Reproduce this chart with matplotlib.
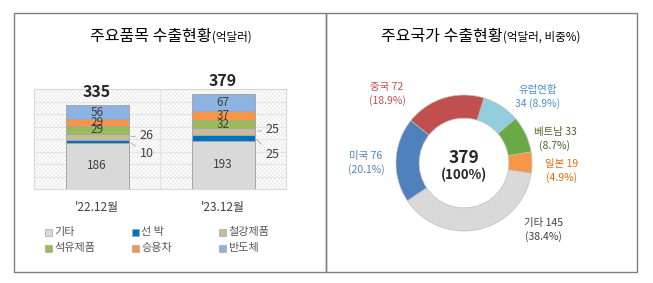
import numpy as np
import matplotlib
matplotlib.use("Agg")
import matplotlib.pyplot as plt
from matplotlib.patches import Rectangle

plt.rcParams['font.family'] = ['Noto Sans CJK KR', 'DejaVu Sans']
plt.rcParams['hatch.linewidth'] = 0.35

# ---- data: 주요품목 (억달러) ----
periods = ["'22.12월", "'23.12월"]
items = ['기타', '선 박', '철강제품', '석유제품', '승용차', '반도체']
item_vals = {
    '기타': [186, 193],
    '선 박': [10, 25],
    '철강제품': [26, 25],
    '석유제품': [29, 32],
    '승용차': [29, 37],
    '반도체': [56, 67],
}
totals = [335, 379]
item_colors = ['#d9d9d9', '#0070c0', '#c4bd97', '#9bbb59', '#f79646', '#8db3e2']

# ---- data: 주요국가 (억달러, 비중%) ----
countries = ['유럽연합', '베트남', '일본', '기타', '미국', '중국']
country_vals = [34, 33, 19, 145, 76, 72]
country_share = [8.9, 8.7, 4.9, 38.4, 20.1, 18.9]
country_colors = ['#92cddc', '#6aaa46', '#f79646', '#d9d9d9', '#4f81bd', '#c0504d']
label_colors = ['#4f8fd0', '#4f6228', '#e46c0a', '#404040', '#4f81bd', '#c0504d']

W, H = 653, 283
fig = plt.figure(figsize=(W / 100, H / 100), dpi=100)


def fx(x):
    return x / W


def fy(y):
    return 1 - y / H


# panel frames
for x0, x1 in [(14, 326), (326, 637)]:
    fig.patches.append(Rectangle((fx(x0), fy(272)), fx(x1) - fx(x0), fy(13) - fy(272),
                                 transform=fig.transFigure, fill=False,
                                 edgecolor='#7f7f7f', lw=1.0))

# titles
fig.text(fx(212), fy(41), '주요품목 수출현황', ha='right', va='baseline', fontsize=11.5, color='black')
fig.text(fx(212), fy(41), '(억달러)', ha='left', va='baseline', fontsize=8.3, color='black')
fig.text(fx(503), fy(41), '주요국가 수출현황', ha='right', va='baseline', fontsize=11.5, color='black')
fig.text(fx(503), fy(41), '(억달러, 비중%)', ha='left', va='baseline', fontsize=8.3, color='black')

# ---- stacked bars ----
ax = fig.add_axes([fx(34), fy(189), fx(286) - fx(34), fy(89) - fy(189)])
ax.set_xlim(-0.5, 1.5)
ax.set_ylim(0, 400)
ax.add_patch(Rectangle((0, 0), 1, 1, transform=ax.transAxes, facecolor='white',
                       edgecolor='#e4e4e4', hatch='xxxxxxxx', lw=0, zorder=0))
for s in ax.spines.values():
    s.set_color('#d9d9d9')
ax.set_yticks(np.arange(0, 401, 50))
ax.set_yticklabels([])
ax.tick_params(left=False, bottom=False, labelbottom=False)
ax.grid(axis='y', color='#e3e3e3', lw=0.8, zorder=0.5)
ax.axvline(0.5, color='#e3e3e3', lw=0.8, zorder=0.5)

x = np.arange(len(periods))
bottom = np.zeros(len(periods))
bars = {}
for name, c in zip(items, item_colors):
    v = np.array(item_vals[name])
    bars[name] = ax.bar(x, v, 0.5, bottom=bottom, color=c, edgecolor='#a6a6a6', lw=0.7, zorder=2)
    bottom = bottom + v

# inside labels
for name in ['기타', '석유제품', '승용차', '반도체']:
    for rect, v in zip(bars[name], item_vals[name]):
        ax.text(rect.get_x() + rect.get_width() / 2, rect.get_y() + rect.get_height() / 2,
                str(v), ha='center', va='center', fontsize=8.5, color='#404040', zorder=3)

# outside labels with leader lines
offsets = {'철강제품': [(8, 1), (8, 1)], '선 박': [(8, -9), (8, -12)]}
for name in ['철강제품', '선 박']:
    for rect, v, off in zip(bars[name], item_vals[name], offsets[name]):
        ax.annotate(str(v), xy=(rect.get_x() + rect.get_width(), rect.get_y() + rect.get_height() / 2),
                    xytext=off, textcoords='offset points', ha='left', va='center',
                    fontsize=9, color='#404040', annotation_clip=False,
                    arrowprops=dict(arrowstyle='-', color='#a6a6a6', lw=0.6,
                                    shrinkA=1, shrinkB=2))

# totals
for xi, t in zip(x, totals):
    ax.annotate(str(t), xy=(xi, t), xytext=(0, 4), textcoords='offset points',
                ha='center', va='bottom', fontsize=11.5, fontweight='bold',
                color='#262626', annotation_clip=False)

# category labels
for xi, p in zip(x, periods):
    ax.annotate(p, xy=(xi, 0), xytext=(0, -13), textcoords='offset points',
                ha='center', va='center', fontsize=8.5, color='#404040', annotation_clip=False)

# legend (3 columns x 2 rows)
leg_x = [45, 132, 219]
leg_y = [232, 248]
for i, (name, c) in enumerate(zip(items, item_colors)):
    cx = leg_x[i % 3]
    cy = leg_y[i // 3]
    fig.patches.append(Rectangle((fx(cx), fy(cy + 3.5)), 7 / W, 7 / H, transform=fig.transFigure,
                                 facecolor=c, edgecolor='#a6a6a6', lw=0.5))
    fig.text(fx(cx + 9), fy(cy), name, ha='left', va='center', fontsize=8, color='#595959')

# ---- donut ----
R = 68
cx0, cy0 = 464, 163
ax2 = fig.add_axes([fx(cx0 - R), fy(cy0 + R), 2 * R / W, 2 * R / H])
ax2.pie(country_vals, colors=country_colors, startangle=73, counterclock=False,
        radius=1, wedgeprops=dict(width=0.34, edgecolor='#bfbfbf', linewidth=0.5))
ax2.set_xlim(-1, 1)
ax2.set_ylim(-1, 1)
ax2.set_aspect('equal')
ax2.axis('off')

ax2.text(0, 0.08, str(sum(country_vals)), ha='center', va='center', fontsize=12.5,
         fontweight='bold', color='#262626')
ax2.text(0, -0.18, '(100%)', ha='center', va='center', fontsize=9.5,
         fontweight='bold', color='#262626')

pie_labels = []
for n, v, s in zip(countries, country_vals, country_share):
    if n == '유럽연합':
        pie_labels.append(f'{n}\n{v} ({s}%)')
    else:
        pie_labels.append(f'{n} {v}\n({s}%)')
label_pos = [(538, 97), (555, 139), (562, 171), (543, 230), (366, 163), (387, 94)]
for txt, (px, py), col in zip(pie_labels, label_pos, label_colors):
    fig.text(fx(px), fy(py), txt, ha='center', va='center', fontsize=7.5,
             color=col, linespacing=1.45)

fig.savefig('out.png', dpi=100)
